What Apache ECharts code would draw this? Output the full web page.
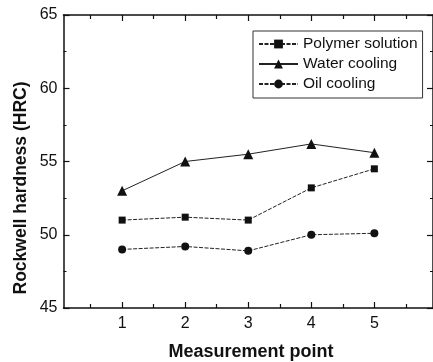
<!DOCTYPE html>
<html>
<head>
<meta charset="utf-8">
<script src="https://cdn.jsdelivr.net/npm/echarts@6/dist/echarts.min.js"></script>
<style>html,body{margin:0;padding:0;background:#fff}#c{width:433px;height:362px}</style>
</head>
<body>
<div id="c"></div>
<script>
var measurementPoints = [1, 2, 3, 4, 5];
var polymerSolution = [51.0, 51.2, 51.0, 53.2, 54.5];
var waterCooling = [53.0, 55.0, 55.5, 56.2, 55.6];
var oilCooling = [49.0, 49.2, 48.9, 50.0, 50.1];
var xTickLabels = [1, 2, 3, 4, 5];
var xHalfTicks = [0.5, 1.5, 2.5, 3.5, 4.5, 5.5];
var seriesNames = ['Polymer solution', 'Water cooling', 'Oil cooling'];

function pairs(xs, ys) { return xs.map(function (x, i) { return [x, ys[i]]; }); }

var FONT = '"Liberation Sans", Arial, sans-serif';
var INK = '#111';
var chart = echarts.init(document.getElementById('c'), null, {renderer: 'canvas'});

function xAx(pos, ticks, len, labels, lineShow) {
  return {
    type: 'value', position: pos, min: 0.07, max: 5.93,
    axisLine: {show: lineShow, onZero: false, lineStyle: {color: INK, width: 1.5}},
    axisTick: {show: true, inside: true, length: len, customValues: ticks, lineStyle: {color: INK, width: 1.2}},
    axisLabel: labels ? {show: true, customValues: xTickLabels, margin: 8, fontSize: 16, color: INK, fontFamily: FONT} : {show: false},
    splitLine: {show: false}
  };
}
function yAx(pos, labels) {
  return {
    type: 'value', position: pos, min: 45, max: 65, interval: 5,
    axisLine: {show: true, onZero: false, lineStyle: {color: INK, width: 1.5}},
    axisTick: {show: true, inside: true, length: 6, lineStyle: {color: INK, width: 1.2}},
    minorTick: {show: true, splitNumber: 2, length: 3, lineStyle: {color: INK, width: 1}},
    axisLabel: labels ? {show: true, margin: 6, fontSize: 16, color: INK, fontFamily: FONT} : {show: false},
    splitLine: {show: false}
  };
}

var symbols = ['rect', 'triangle', 'circle'];
var sizes = [7, 10, 8];
var dataSets = [polymerSolution, waterCooling, oilCooling];
var lineTypes = [[4, 1.5], 'solid', [4, 1.5]];

chart.setOption({
  animation: false,
  backgroundColor: '#fff',
  grid: {left: 63.5, top: 15, right: -4, bottom: 54, containLabel: false},
  xAxis: [
    xAx('bottom', xTickLabels, 6, true, true),
    xAx('top', xTickLabels, 6, false, true),
    xAx('bottom', xHalfTicks, 4, false, false),
    xAx('top', xHalfTicks, 4, false, false)
  ],
  yAxis: [yAx('left', true), yAx('right', false)],
  legend: {
    left: 253, top: 31, orient: 'vertical',
    padding: [5, 5, 6, 5], itemGap: 4, itemWidth: 39, itemHeight: 11,
    borderColor: '#333', borderWidth: 1,
    textStyle: {fontSize: 15.5, color: INK, fontFamily: FONT, lineHeight: 15.5},
    data: seriesNames
  },
  graphic: [
    {type: 'text', x: 21, y: 188, rotation: Math.PI / 2,
     style: {text: 'Rockwell hardness (HRC)', font: 'bold 17.5px ' + FONT, fill: INK, textAlign: 'center', textVerticalAlign: 'middle'}},
    {type: 'text', x: 251, y: 352,
     style: {text: 'Measurement point', font: 'bold 18px ' + FONT, fill: INK, textAlign: 'center', textVerticalAlign: 'middle'}}
  ],
  series: seriesNames.map(function (n, i) {
    return {
      name: n, type: 'line', xAxisIndex: 0, yAxisIndex: 0,
      data: pairs(measurementPoints, dataSets[i]),
      symbol: symbols[i], symbolSize: sizes[i],
      itemStyle: {color: INK},
      lineStyle: {color: '#222', width: 1, type: lineTypes[i]}
    };
  })
});
</script>
</body>
</html>
